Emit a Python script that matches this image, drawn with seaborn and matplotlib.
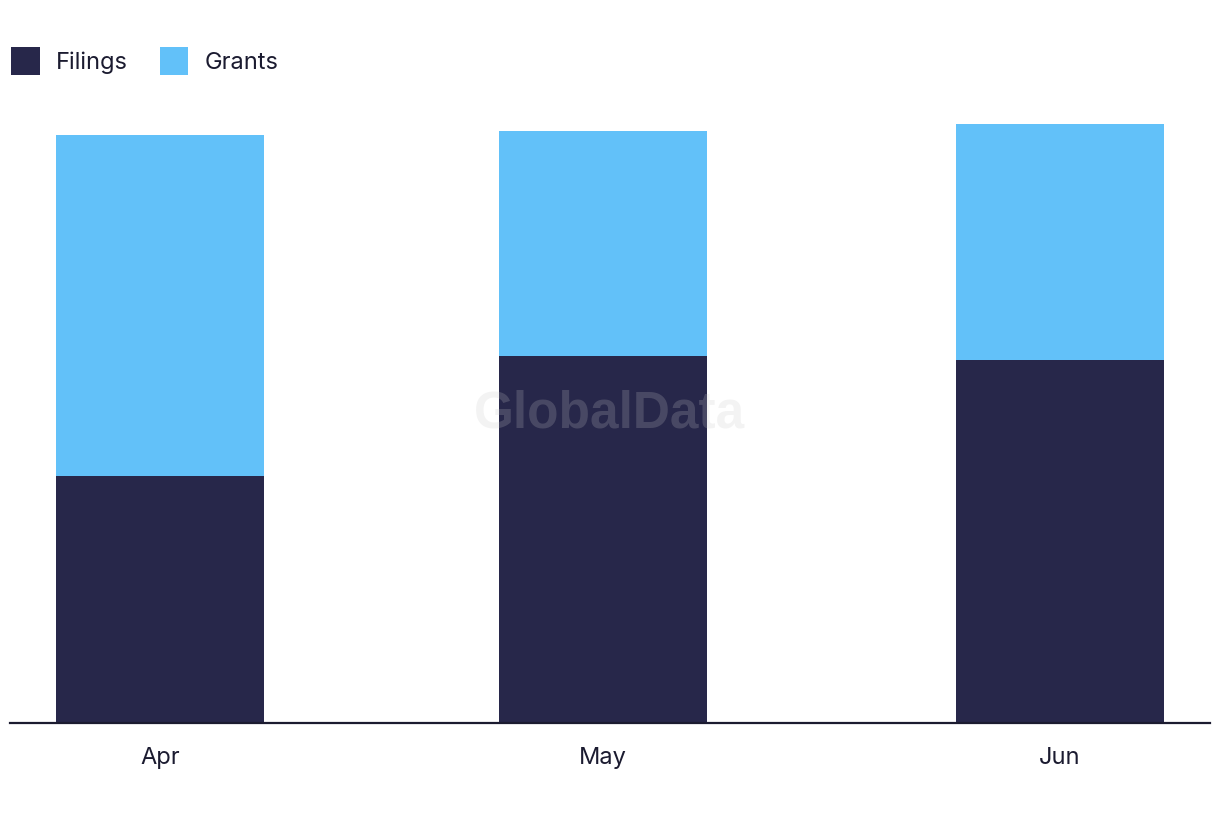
import matplotlib
matplotlib.use("Agg")
import matplotlib.pyplot as plt
import seaborn as sns
import pandas as pd
from matplotlib.patches import Patch

months = ["Apr", "May", "Jun"]
day_pos = [0, 30, 61]  # month start, days from Apr 1 (time axis)
filings = [247, 367, 363]
grants = [341, 225, 236]

FIL_C = "#27274a"
GRA_C = "#62c1f9"
TXT_C = "#1b1b30"

sns.set_theme(style="white")
plt.rcParams["font.family"] = ["Inter", "DejaVu Sans"]

df = pd.DataFrame({"day": day_pos, "month": months,
                   "Filings": filings, "Grants": grants})
df["Total"] = df["Filings"] + df["Grants"]

fig = plt.figure(figsize=(12.2, 8.22), dpi=100)
ax = fig.add_axes([10 / 1220, 1 - 723 / 822, 1200 / 1220, (723 - 100) / 822])

sns.barplot(data=df, x="day", y="Total", native_scale=True, color=GRA_C,
            saturation=1, width=0.47, ax=ax, linewidth=0, edgecolor="none")
sns.barplot(data=df, x="day", y="Filings", native_scale=True, color=FIL_C,
            saturation=1, width=0.47, ax=ax, linewidth=0, edgecolor="none")

ax.set_xlim(-10.18, 71.18)
ax.set_ylim(0, 623)
ax.set_xticks(day_pos)
ax.set_xticklabels(months)
ax.set_yticks([])
ax.set_xlabel("")
ax.set_ylabel("")
for s in ["top", "right", "left"]:
    ax.spines[s].set_visible(False)
ax.spines["bottom"].set_color(TXT_C)
ax.spines["bottom"].set_linewidth(1.6)
ax.tick_params(axis="x", length=0, pad=17, labelsize=17, labelcolor=TXT_C)

fig.text(610 / 1220, 1 - 414 / 822, "GlobalData", ha="center", va="center",
         fontsize=37, fontweight="bold", family="Liberation Sans",
         color="#c7c7c7", alpha=0.21, zorder=10)

handles = [Patch(facecolor=FIL_C, edgecolor="none", label="Filings"),
           Patch(facecolor=GRA_C, edgecolor="none", label="Grants")]
fig.legend(handles=handles, loc="upper left", bbox_to_anchor=(2 / 1220, 1 - 38 / 822),
           ncol=2, frameon=False, fontsize=17, handlelength=1.2, handleheight=1.45,
           handletextpad=0.7, columnspacing=1.35, labelcolor=TXT_C, borderaxespad=0)

fig.savefig("out.png", dpi=100, facecolor="white")
